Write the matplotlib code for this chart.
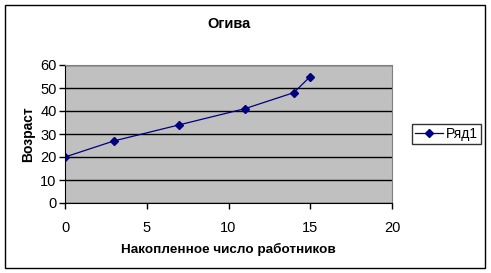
import matplotlib.pyplot as plt
from matplotlib.patches import Rectangle

plt.rcParams['font.family'] = ['Liberation Sans', 'DejaVu Sans']

# data
workers = [0, 3, 7, 11, 14, 15]
ages = [20, 27, 34, 41, 48, 55]
x_ticks = [0, 5, 10, 15, 20]
y_ticks = [0, 10, 20, 30, 40, 50, 60]

fig = plt.figure(figsize=(4.91, 2.73), dpi=100)
fig.patch.set_facecolor('white')

# outer chart frame
fig.patches.append(Rectangle((5 / 491, 5 / 273), 480 / 491, 263 / 273,
                             transform=fig.transFigure, fill=False,
                             edgecolor='black', linewidth=1.0))

ax = fig.add_axes([65 / 491, 70 / 273, 327 / 491, 138 / 273])
ax.set_facecolor('#C0C0C0')
ax.plot(workers, ages, '-', color='#000080', linewidth=0.9,
        marker='D', markersize=4, markerfacecolor='#000080',
        markeredgecolor='#000080', label='Ряд1')

ax.set_xlim(0, 20)
ax.set_ylim(0, 60)
ax.set_xticks(x_ticks)
ax.set_yticks(y_ticks)
ax.yaxis.grid(True, color='black', linewidth=1.0)
ax.set_axisbelow(True)
ax.tick_params(direction='out', length=4, width=1, labelsize=10.5,
               colors='black', pad=2)
ax.tick_params(axis='x', pad=9)

for side in ('top', 'right'):
    ax.spines[side].set_color('#808080')
for side in ('left', 'bottom'):
    ax.spines[side].set_color('black')

ax.set_title('Огива', fontsize=10.5, fontweight='bold', pad=27)
ax.set_xlabel('Накопленное число работников', fontsize=9.7,
              fontweight='bold', labelpad=6)
ax.set_ylabel('Возраст', fontsize=10, fontweight='bold', labelpad=4)

leg = ax.legend(loc='center left', bbox_to_anchor=(1.06, 0.5),
                frameon=True, fancybox=False, fontsize=10,
                handlelength=2.0, borderpad=0.25, handletextpad=0.2,
                borderaxespad=0)
leg.get_frame().set_edgecolor('black')
leg.get_frame().set_linewidth(1.0)

fig.savefig('out.png', dpi=100)
